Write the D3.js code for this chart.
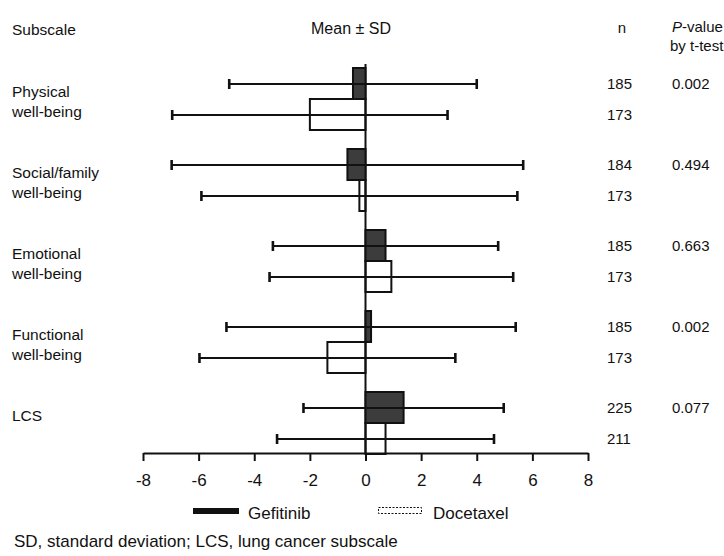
<!DOCTYPE html>
<html>
<head>
<meta charset="utf-8">
<script src="https://cdn.jsdelivr.net/npm/d3@7"></script>
<style>
  html, body { margin: 0; padding: 0; background: #fff; }
  svg { display: block; font-family: "Liberation Sans", Arial, Helvetica, sans-serif; }
  text { fill: #111; }
</style>
</head>
<body>
<svg id="chart" width="724" height="556"></svg>
<script>
// ---- data ----
const subscales = ["Physical", "Social/family", "Emotional", "Functional", "LCS"];
const labelLines = [["Physical", "well-being"], ["Social/family", "well-being"], ["Emotional", "well-being"], ["Functional", "well-being"], ["LCS"]];
const gefMean = [-0.45, -0.65, 0.72, 0.2, 1.37];
const gefSD   = [4.45, 6.32, 4.05, 5.2, 3.6];
const docMean = [-2.0, -0.22, 0.93, -1.37, 0.72];
const docSD   = [4.95, 5.68, 4.38, 4.6, 3.9];
const gefN = [185, 184, 185, 185, 225];
const docN = [173, 173, 173, 173, 211];
const pValues = ["0.002", "0.494", "0.663", "0.002", "0.077"];
const xTicks = [-8, -6, -4, -2, 0, 2, 4, 6, 8];

const svg = d3.select("#chart");
const x = d3.scaleLinear().domain([-8, 8]).range([143, 588]);
const y = d3.scaleBand().domain(subscales).range([64, 469]).padding(0);
const axisY = 453;
const ink = "#111";

// header
svg.append("text").attr("x", 12).attr("y", 35).attr("font-size", 15.5).text("Subscale");
svg.append("text").attr("x", 351).attr("y", 34).attr("font-size", 16).attr("text-anchor", "middle").text("Mean ± SD");
svg.append("text").attr("x", 622).attr("y", 33).attr("font-size", 15).attr("text-anchor", "middle").text("n");
const ph = svg.append("text").attr("x", 672).attr("y", 32).attr("font-size", 15);
ph.append("tspan").attr("font-style", "italic").text("P");
ph.append("tspan").text("-value");
svg.append("text").attr("x", 670).attr("y", 51).attr("font-size", 15).text("by t-test");

// row labels
subscales.forEach((s, i) => {
  const t = svg.append("text").attr("x", 12).attr("font-size", 15.5);
  labelLines[i].forEach((ln, j) => {
    t.append("tspan").attr("x", 12).attr("y", y(s) + 33 + j * 20).text(ln);
  });
});

// zero line
svg.append("line").attr("x1", x(0)).attr("x2", x(0)).attr("y1", 64).attr("y2", axisY)
  .attr("stroke", ink).attr("stroke-width", 2);

const gefC = d => y(d) + 20, docC = d => y(d) + 51;

// bars
svg.selectAll("rect.gef").data(subscales).join("rect").attr("class", "gef")
  .attr("x", (d, i) => Math.min(x(0), x(gefMean[i])))
  .attr("width", (d, i) => Math.abs(x(gefMean[i]) - x(0)))
  .attr("y", d => y(d) + 4).attr("height", 31)
  .attr("fill", "#3c3c3c").attr("stroke", ink).attr("stroke-width", 2);

svg.selectAll("rect.doc").data(subscales).join("rect").attr("class", "doc")
  .attr("x", (d, i) => Math.min(x(0), x(docMean[i])))
  .attr("width", (d, i) => Math.abs(x(docMean[i]) - x(0)))
  .attr("y", d => y(d) + 35).attr("height", 31)
  .attr("fill", "none").attr("stroke", ink).attr("stroke-width", 2);

// error bars
function errBars(cls, means, sds, cy) {
  const g = svg.append("g").attr("class", cls);
  subscales.forEach((s, i) => {
    const lo = x(means[i] - sds[i]), hi = x(means[i] + sds[i]), yy = cy(s);
    g.append("line").attr("x1", lo).attr("x2", hi).attr("y1", yy).attr("y2", yy)
      .attr("stroke", ink).attr("stroke-width", 2.2);
    [lo, hi].forEach(xx => g.append("line").attr("x1", xx).attr("x2", xx)
      .attr("y1", yy - 5).attr("y2", yy + 5).attr("stroke", ink).attr("stroke-width", 2.6));
  });
}
errBars("gefErr", gefMean, gefSD, gefC);
errBars("docErr", docMean, docSD, docC);

// n and p-values
subscales.forEach((s, i) => {
  svg.append("text").attr("x", 607).attr("y", gefC(s) + 5).attr("font-size", 15).text(gefN[i]);
  svg.append("text").attr("x", 607).attr("y", docC(s) + 5).attr("font-size", 15).text(docN[i]);
  svg.append("text").attr("x", 672).attr("y", gefC(s) + 5).attr("font-size", 15).text(pValues[i]);
});

// x axis
const ax = svg.append("g").attr("transform", `translate(0,${axisY})`)
  .call(d3.axisBottom(x).tickValues(xTicks).tickFormat(d => String(d))
    .tickSize(8).tickSizeOuter(0).tickPadding(13));
ax.select(".domain").attr("stroke", ink).attr("stroke-width", 2);
ax.selectAll(".tick line").attr("stroke", ink).attr("stroke-width", 2);
ax.selectAll(".tick text").attr("font-size", 17).attr("fill", ink)
  .attr("font-family", "Liberation Sans, Arial, sans-serif");

// legend
svg.append("rect").attr("x", 193).attr("y", 508).attr("width", 46).attr("height", 6).attr("fill", ink);
svg.append("text").attr("x", 248).attr("y", 519).attr("font-size", 17).text("Gefitinib");
svg.append("rect").attr("x", 378.5).attr("y", 507.5).attr("width", 43).attr("height", 6)
  .attr("fill", "none").attr("stroke", ink).attr("stroke-width", 1).attr("stroke-dasharray", "2,1.5");
svg.append("text").attr("x", 433).attr("y", 519).attr("font-size", 17).text("Docetaxel");

// footnote
svg.append("text").attr("x", 14).attr("y", 547).attr("font-size", 17)
  .text("SD, standard deviation; LCS, lung cancer subscale");
</script>
</body>
</html>
